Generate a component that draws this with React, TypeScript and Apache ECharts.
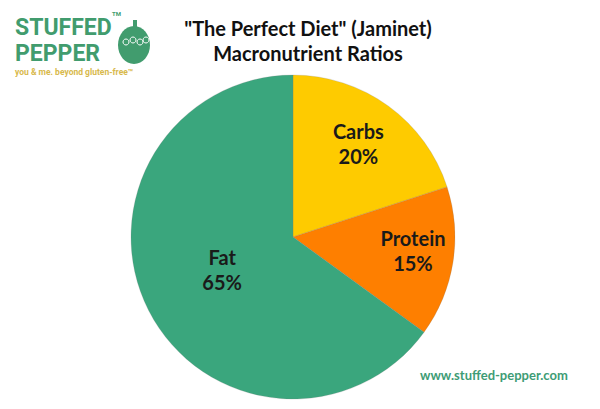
import React, { useEffect, useRef } from "react";
import * as echarts from "echarts";

const categories = ["Carbs", "Protein", "Fat"];
const values = [20, 15, 65];
const colors = ["#FECB00", "#FE7F00", "#3AA67D"];
const titleLines = ['"The Perfect Diet" (Jaminet)', "Macronutrient Ratios"];
const labelShift = [
  [16, -26],
  [37, 0],
  [4, -6],
];

export default function App() {
  const ref = useRef<HTMLDivElement>(null);
  useEffect(() => {
    if (!ref.current) return;
    const chart = echarts.init(ref.current, null, { renderer: "svg" });
    const font = "Lato, 'Open Sans', sans-serif";
    chart.setOption({
      animation: false,
      backgroundColor: "#ffffff",
      title: {
        text: titleLines.join("\n"),
        left: 303,
        top: 10,
        textAlign: "center",
        textStyle: {
          fontFamily: font,
          fontWeight: "bold",
          fontSize: 20,
          lineHeight: 25,
          color: "#111111",
        },
      },
      series: [
        {
          type: "pie",
          center: [293, 237],
          radius: 162,
          startAngle: 90,
          clockwise: true,
          silent: true,
          itemStyle: { borderColor: "rgba(120,120,120,0.35)", borderWidth: 0.6 },
          label: {
            show: true,
            position: "inside",
            formatter: (p: any) => `${p.name}\n${p.value}%`,
            fontFamily: font,
            fontWeight: "bold",
            fontSize: 20,
            lineHeight: 25,
            color: "#1a1a1a",
          },
          labelLine: { show: false },
          labelLayout: (p: any) => ({
            dx: labelShift[p.dataIndex][0],
            dy: labelShift[p.dataIndex][1],
          }),
          data: categories.map((c, i) => ({
            name: c,
            value: values[i],
            itemStyle: { color: colors[i] },
          })),
        },
      ],
      graphic: [
        {
          type: "text",
          left: 15,
          top: 16,
          style: {
            text: "STUFFED",
            font: "bold 23px Roboto, sans-serif",
            fill: "#419C6E",
          },
        },
        {
          type: "text",
          left: 15,
          top: 42,
          style: {
            text: "PEPPER",
            font: "bold 23px Roboto, sans-serif",
            fill: "#419C6E",
          },
        },
        {
          type: "text",
          left: 15,
          top: 67,
          style: {
            text: "you & me. beyond gluten-free™",
            font: "bold 8.5px Roboto, sans-serif",
            fill: "#D8B94C",
          },
        },
        {
          type: "text",
          left: 112,
          top: 10,
          style: { text: "TM", font: "bold 6px Roboto, sans-serif", fill: "#419C6E" },
        },
        {
          type: "ellipse",
          shape: { cx: 134, cy: 45, rx: 16, ry: 19 },
          style: { fill: "#419C6E" },
        },
        {
          type: "rect",
          shape: { x: 133, y: 20, width: 4, height: 9 },
          style: { fill: "#419C6E" },
        },
        {
          type: "circle",
          shape: { cx: 126, cy: 42, r: 3 },
          style: { fill: "none", stroke: "#ffffff", lineWidth: 1 },
        },
        {
          type: "circle",
          shape: { cx: 133, cy: 40, r: 3 },
          style: { fill: "none", stroke: "#ffffff", lineWidth: 1 },
        },
        {
          type: "circle",
          shape: { cx: 140, cy: 42, r: 3 },
          style: { fill: "none", stroke: "#ffffff", lineWidth: 1 },
        },
        {
          type: "circle",
          shape: { cx: 146, cy: 40, r: 3 },
          style: { fill: "none", stroke: "#ffffff", lineWidth: 1 },
        },
        {
          type: "text",
          left: 420,
          top: 368,
          style: {
            text: "www.stuffed-pepper.com",
            font: "bold 13px Lato, sans-serif",
            fill: "#3E9C75",
          },
        },
      ],
    });
    return () => chart.dispose();
  }, []);
  return <div ref={ref} style={{ width: 600, height: 409, margin: -8 }} />;
}
